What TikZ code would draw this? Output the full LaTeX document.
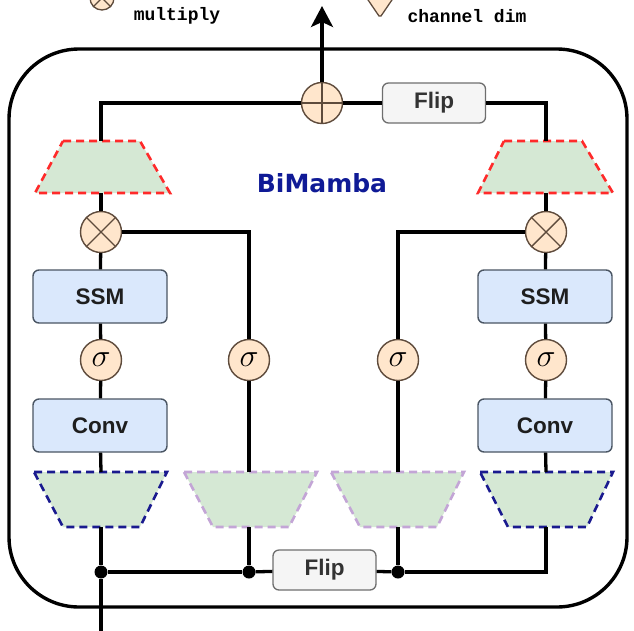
\RequirePackage{fix-cm}
\documentclass[tikz,border=0pt]{standalone}
\usepackage{fontspec}
\setmainfont{Liberation Sans}
\newfontfamily\titlefont{DejaVu Sans}
\newfontfamily\legendmono{Liberation Mono}
\usetikzlibrary{arrows.meta}
\definecolor{peach}{HTML}{FFE6CC}
\definecolor{peachline}{HTML}{5E4B3C}
\definecolor{boxblue}{HTML}{DAE8FC}
\definecolor{boxline}{HTML}{4A5563}
\definecolor{trapgreen}{HTML}{D5E8D4}
\definecolor{dashred}{HTML}{FF2A2A}
\definecolor{dashblue}{HTML}{1A1A8F}
\definecolor{dashpurple}{HTML}{C3A5D6}
\definecolor{flipfill}{HTML}{F5F5F5}
\definecolor{flipline}{HTML}{6E6E6E}
\definecolor{fliptext}{HTML}{333333}
\definecolor{titleblue}{HTML}{0F1A96}
\definecolor{blocktext}{HTML}{1E1E1E}
\tikzset{
  wire/.style={line width=3.3pt, black},
  opcircle/.style={circle, draw=peachline, fill=peach, line width=1.4pt, minimum size=41pt, inner sep=0pt},
  opmark/.style={peachline, line width=1.4pt},
  sigmacircle/.style={opcircle, font=\fontsize{32}{34}\selectfont},
  blockbox/.style={rectangle, rounded corners=6pt, draw=boxline, fill=boxblue, line width=1.4pt,
    minimum width=134pt, minimum height=53pt, inner sep=0pt, text=blocktext, font=\fontsize{22.5}{26}\selectfont\bfseries},
  flipbox/.style={rectangle, rounded corners=6pt, draw=flipline, fill=flipfill, line width=1.3pt,
    minimum width=103pt, minimum height=40pt, inner sep=0pt, text=fliptext, font=\fontsize{22.5}{26}\selectfont\bfseries},
  junction/.style={circle, fill=black, minimum size=13pt, inner sep=0pt},
  trapshape/.style={fill=trapgreen, dash pattern=on 8pt off 5pt, line width=2.6pt, line join=miter},
  legendtext/.style={font=\legendmono\bfseries\fontsize{18}{20}\selectfont},
}
\begin{document}
\begin{tikzpicture}[x=1pt, y=-1pt]
\useasboundingbox (0,0) rectangle (634,630);

% legend (partially cut at the top)
\node[circle, draw=peachline, fill=peach, line width=1.3pt, minimum size=24pt, inner sep=0pt] (legmul) at (102,-2) {};
\draw[opmark, line width=1.3pt] (legmul.north west) -- (legmul.south east) (legmul.north east) -- (legmul.south west);
\node[legendtext] (legmultxt) at (177,16) {multiply};
\draw[peachline, fill=peach, line width=1.3pt, line join=round] (364,-6) -- (396,-6) -- (381,16) -- (379,16) -- cycle;
\node[legendtext] (legchtxt) at (467,16) {channel dim};

% outer frame
\draw[line width=3.4pt, rounded corners=70pt] (9,49) rectangle (627,607);

% title
\node[text=titleblue, font=\titlefont\bfseries\fontsize{25}{30}\selectfont] (title) at (322,183) {BiMamba};

% trapezoids (projections)
\draw[trapshape, draw=dashred] (63,141) -- (140,141) -- (170,193) -- (35,193) -- cycle;
\draw[trapshape, draw=dashred] (504,141) -- (582,141) -- (613,193) -- (478,193) -- cycle;
\draw[trapshape, draw=dashblue] (34,472) -- (167,472) -- (140,527) -- (63,527) -- cycle;
\draw[trapshape, draw=dashpurple] (184,472) -- (317,472) -- (289,527) -- (213,527) -- cycle;
\draw[trapshape, draw=dashpurple] (331,472) -- (464,472) -- (437,527) -- (360,527) -- cycle;
\draw[trapshape, draw=dashblue] (480,472) -- (613,472) -- (587,527) -- (508,527) -- cycle;

\coordinate (redLt) at (101,141);  \coordinate (redLb) at (101,193);
\coordinate (redRt) at (546,141);  \coordinate (redRb) at (546,193);
\coordinate (b1t) at (101,472);    \coordinate (b1b) at (101,527);
\coordinate (b2t) at (249,472);    \coordinate (b2b) at (249,527);
\coordinate (b3t) at (398,472);    \coordinate (b3b) at (398,527);
\coordinate (b4t) at (546,472);    \coordinate (b4b) at (546,527);
\coordinate (inp) at (101,632);
\coordinate (outp) at (322,6);

% operators
\node[opcircle] (plus) at (322,103) {};
\draw[opmark] (plus.north) -- (plus.south) (plus.west) -- (plus.east);
\node[opcircle] (mulL) at (101,232) {};
\draw[opmark] (mulL.north west) -- (mulL.south east) (mulL.north east) -- (mulL.south west);
\node[opcircle] (mulR) at (546,232) {};
\draw[opmark] (mulR.north west) -- (mulR.south east) (mulR.north east) -- (mulR.south west);
\node[sigmacircle] (sigL) at (101,360) {$\sigma$};
\node[sigmacircle] (sig2) at (249,360) {$\sigma$};
\node[sigmacircle] (sig3) at (398,360) {$\sigma$};
\node[sigmacircle] (sigR) at (546,360) {$\sigma$};

% blocks
\node[blockbox] (ssmL) at (100,296.5) {SSM};
\node[blockbox] (convL) at (100,425.5) {Conv};
\node[blockbox] (ssmR) at (545,296.5) {SSM};
\node[blockbox] (convR) at (545,425.5) {Conv};
\node[flipbox] (flipT) at (434,103) {Flip};
\node[flipbox] (flipB) at (324.5,570) {Flip};

% junctions
\node[junction] (jL) at (101,572) {};
\node[junction] (j2) at (249,572) {};
\node[junction] (j3) at (398,572) {};

% connectors
\draw[wire] (inp) -- (jL);
\draw[wire] (jL) -- (b1b);
\draw[wire] (jL) -- (j2);
\draw[wire] (j2) -- (b2b);
\draw[wire] (j2) -- (flipB);
\draw[wire] (flipB) -- (j3);
\draw[wire] (j3) -- (b3b);
\draw[wire] (j3) -| (b4b);

\draw[wire] (b1t) -- (convL);
\draw[wire] (convL) -- (sigL);
\draw[wire] (sigL) -- (ssmL);
\draw[wire] (ssmL) -- (mulL);
\draw[wire] (mulL) -- (redLb);
\draw[wire] (redLt) |- (plus);

\draw[wire] (b4t) -- (convR);
\draw[wire] (convR) -- (sigR);
\draw[wire] (sigR) -- (ssmR);
\draw[wire] (ssmR) -- (mulR);
\draw[wire] (mulR) -- (redRb);
\draw[wire] (plus) -- (flipT);
\draw[wire] (flipT) -| (redRt);

\draw[wire] (b2t) -- (sig2);
\draw[wire] (sig2) |- (mulL);
\draw[wire] (b3t) -- (sig3);
\draw[wire] (sig3) |- (mulR);

\draw[wire, -{Stealth[length=21pt, width=22pt, inset=5pt]}] (plus) -- (outp);
\end{tikzpicture}
\end{document}
